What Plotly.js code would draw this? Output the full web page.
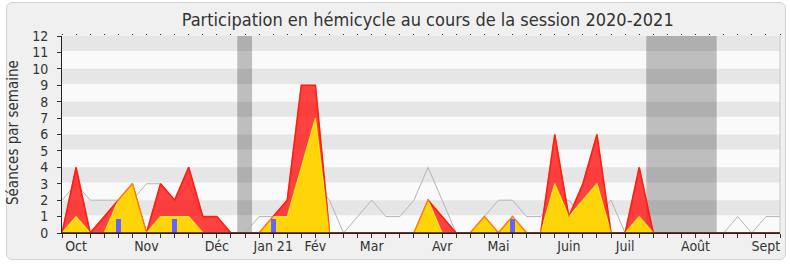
<!DOCTYPE html>
<html>
<head>
<meta charset="utf-8">
<script src="https://cdn.plot.ly/plotly-3.0.1.min.js"></script>
<style>
  html, body { margin: 0; padding: 0; background: #ffffff; }
  #frame { position: absolute; left: 6px; top: 2px; width: 778px; height: 256px;
           background: #f0f0f0; border: 1px solid #d4d4d4; border-radius: 6px; }
  #chart { position: absolute; left: 0; top: 0; width: 790px; height: 267px; }
</style>
</head>
<body>
<div id="frame"></div>
<div id="chart"></div>
<script>
// Weekly index 0..51 (session 2020-2021)
const weeks = Array.from({length: 52}, (_, i) => i);

// Month tick labels placed at week index
const monthWeeks  = [1, 6, 11, 15, 18, 22, 27, 31, 36, 40, 45, 50];
const monthLabels = ["Oct", "Nov", "Déc", "Jan 21", "Fév", "Mar", "Avr", "Mai", "Juin", "Juil", "Août", "Sept"];

// Séances (red area)
const seances = [0,4,0,1,2,3,0,3,2,4,1,1,0,0,0,1,2,9,9,0,
                 0,0,0,0,0,0,2,1,0,0,1,0,1,0,0,6,1,3,6,0,
                 0,4,0,0,0,0,0,0,0,0,0,0];
// Présences (yellow area)
const presences = [0,1,0,0,2,3,0,1,1,1,0,0,0,0,0,1,1,4,7,0,
                   0,0,0,0,0,0,2,0,0,0,1,0,1,0,0,3,1,2,3,0,
                   0,1,0,0,0,0,0,0,0,0,0,0];
// Médiane (grey line)
const mediane = [2,3,2,2,2,2,3,3,2,3,1,1,0,0,1,1,2,3,3,2,
                 0,1,2,1,1,2,4,2,0,0,1,2,2,1,1,2,2,1,1,2,
                 0,0,0,0,0,0,0,0,1,0,1,1];
// Questions (blue bars)
const questionWeeks = [4, 8, 15, 32];
const questionVals  = [0.87, 0.87, 0.87, 0.87];

// Vacation periods (week index ranges)
const vacStart = [12.45, 41.5];
const vacEnd   = [13.5, 46.5];

const FONT = "DejaVu Sans Condensed, DejaVu Sans, sans-serif";

const shapes = [];
for (let k = 1; k < 12; k += 2) {
  shapes.push({type: 'rect', layer: 'below', xref: 'paper', yref: 'y',
    x0: 0, x1: 1, y0: k + 0.08, y1: k + 1, fillcolor: '#e6e6e6', line: {width: 0}});
}
for (let k = 0; k < vacStart.length; k++) {
  shapes.push({type: 'rect', layer: 'below', xref: 'x', yref: 'paper',
    x0: vacStart[k], x1: vacEnd[k], y0: 0, y1: 1, fillcolor: 'rgba(0,0,0,0.24)', line: {width: 0}});
}
shapes.push({type: 'line', xref: 'paper', yref: 'paper', x0: 1, x1: 1, y0: 0, y1: 1,
  line: {color: '#c8c8c8', width: 1}});
shapes.push({type: 'line', layer: 'above', xref: 'paper', yref: 'y', x0: 0, x1: 1, y0: 0, y1: 0,
  line: {color: '#3a1c1c', width: 1.6}});

const traces = [
  {x: weeks, y: mediane, type: 'scatter', mode: 'lines',
   line: {color: '#b4b4b4', width: 1}, hoverinfo: 'skip'},
  {x: weeks, y: seances, type: 'scatter', mode: 'lines', fill: 'tozeroy',
   fillcolor: 'rgba(255,20,20,0.8)', line: {color: '#ff1a1a', width: 1.5}, hoverinfo: 'skip'},
  {x: weeks, y: presences, type: 'scatter', mode: 'lines', fill: 'tozeroy',
   fillcolor: '#ffd50a', line: {color: '#ffe81a', width: 1.2}, hoverinfo: 'skip'},
  {x: weeks, y: seances, type: 'scatter', mode: 'lines',
   line: {color: 'rgba(255,40,0,0.55)', width: 1.2}, hoverinfo: 'skip'},
  {x: questionWeeks, y: questionVals, type: 'bar', width: 0.36, xaxis: 'x2', yaxis: 'y',
   marker: {color: '#6464ff', line: {width: 0}}, hoverinfo: 'skip'}
];

const layout = {
  width: 790, height: 267,
  margin: {l: 62, r: 10, t: 36, b: 34},
  paper_bgcolor: 'rgba(0,0,0,0)',
  plot_bgcolor: '#fafafa',
  showlegend: false,
  font: {family: FONT, color: '#333333'},
  title: {text: 'Participation en hémicycle au cours de la session 2020-2021',
    font: {family: FONT, size: 18, color: '#333333'},
    xref: 'container', x: 0.5414, xanchor: 'center',
    yref: 'container', y: 0.925, yanchor: 'middle'},
  xaxis: {range: [0, 51], tickmode: 'array', tickvals: weeks,
    ticktext: weeks.map(w => { const j = monthWeeks.indexOf(w); return j >= 0 ? monthLabels[j] : ''; }),
    ticks: 'outside', ticklen: 4, tickcolor: '#333', showgrid: false, zeroline: false,
    showline: true, linecolor: '#3a1c1c', linewidth: 1,
    ticklabelstandoff: -4,
    tickfont: {family: FONT, size: 14, color: '#333'}, fixedrange: true},
  xaxis2: {overlaying: 'x', side: 'top', range: [0, 51], tickmode: 'array', tickvals: weeks,
    ticks: 'outside', ticklen: 1, tickcolor: '#333', showticklabels: false,
    showgrid: false, zeroline: false, showline: false},
  yaxis: {range: [0, 12], dtick: 1, tick0: 0, ticks: 'outside', ticklen: 4, tickcolor: '#333',
    showgrid: false, zeroline: false, showline: true, linecolor: '#222', linewidth: 1,
    ticklabelstandoff: 6,
    tickfont: {family: FONT, size: 14, color: '#333'}, fixedrange: true},
  bargap: 0,
  shapes: shapes,
  annotations: [{text: 'Séances par semaine', xref: 'paper', yref: 'paper',
    x: (12.5 - 62) / 718, y: (233 - 132.5) / 197, xanchor: 'center', yanchor: 'middle',
    textangle: -90, showarrow: false, font: {family: FONT, size: 15, color: '#333'}}]
};

Plotly.newPlot('chart', traces, layout, {staticPlot: true, displayModeBar: false});
</script>
</body>
</html>
